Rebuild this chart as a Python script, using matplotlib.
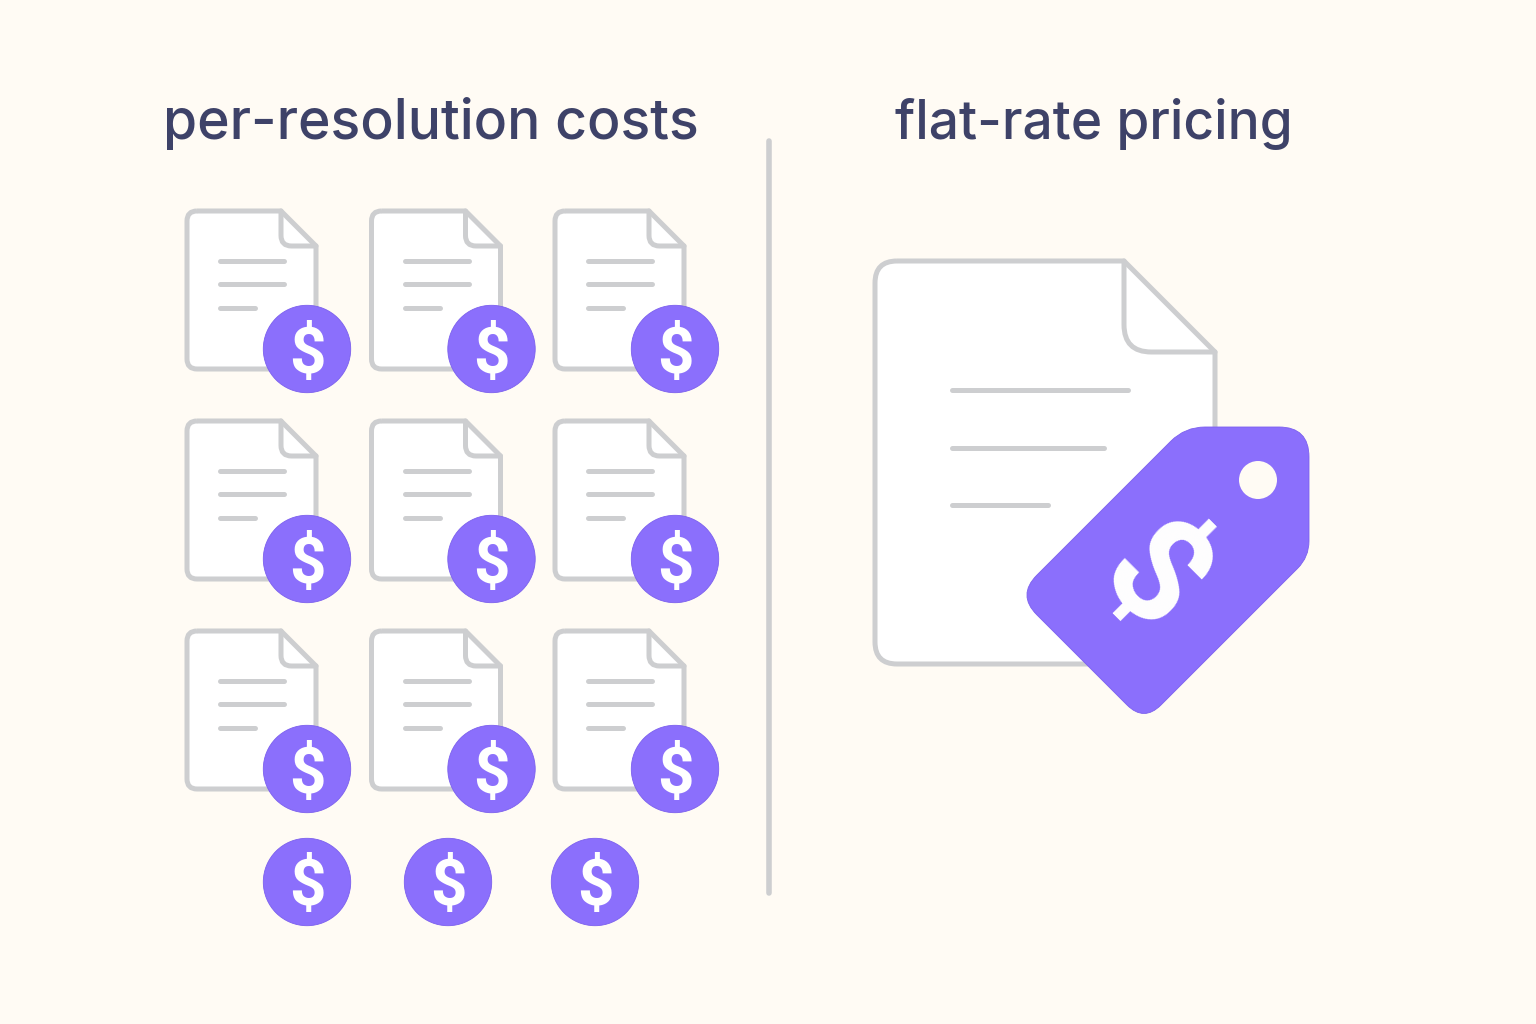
import numpy as np
import matplotlib
matplotlib.use("Agg")
import matplotlib.pyplot as plt
from matplotlib.patches import Circle, PathPatch
from matplotlib.path import Path

BG = "#FFFBF4"; GREY = "#CDCED0"; PURPLE = "#8B6FFC"; EDGE = "#7C60EE"; NAVY = "#3E4268"; WHITE = "#FFFFFF"

titles = ["per-resolution costs", "flat-rate pricing"]
title_x = [430.5, 1094]
title_size = [39.8, 38.4]
doc_x = [187, 371.5, 555]
doc_y = [211, 421, 631]
coin_offset = (120, 138)
extra_coin_x = [307, 448, 595]
extra_coin_y = 882
line_lengths = [64, 64, 35]

fig = plt.figure(figsize=(15.36, 10.24), dpi=100, facecolor=BG)
ax = fig.add_axes([0, 0, 1, 1])
ax.set_xlim(0, 1536); ax.set_ylim(1024, 0); ax.axis("off")
M, L, C = Path.MOVETO, Path.LINETO, Path.CURVE3


def rounded(points, radii):
    """Closed polygon with rounded corners."""
    pts = [np.array(p, float) for p in points]
    n = len(pts); v = []; c = []
    for i in range(n):
        p, a, b = pts[i], pts[i - 1], pts[(i + 1) % n]
        r = radii[i]
        s = p + (a - p) / np.linalg.norm(a - p) * r
        e = p + (b - p) / np.linalg.norm(b - p) * r
        v += [s, p, e]; c += [M if i == 0 else L, C, C]
    v.append(v[0]); c.append(L)
    return Path(v, c)


def doc(x, y, w, h, fold, r, lw, lines, line_ys, line_x, cut=None, z=2):
    if cut is None:
        br_v = [(x + w, y + h - r), (x + w, y + h), (x + w - r, y + h)]
        br_c = [L, C, C]
    else:
        br_v = [(x + w, cut[0]), (cut[1], y + h)]
        br_c = [L, L]
    v = [(x + r, y), (x + w - fold, y), (x + w, y + fold)] + br_v + \
        [(x + r, y + h), (x, y + h), (x, y + h - r), (x, y + r), (x, y), (x + r, y)]
    c = [M, L, L] + br_c + [L, C, C, L, C, C]
    ax.add_patch(PathPatch(Path(v, c), fc=WHITE, ec="none", zorder=z))
    if cut is None:
        ax.add_patch(PathPatch(Path(v, c), fc="none", ec=GREY, lw=lw, zorder=z, joinstyle="round"))
    else:
        ax.add_patch(PathPatch(Path(v[:4], c[:4]), fc="none", ec=GREY, lw=lw, zorder=z, joinstyle="round"))
        ax.add_patch(PathPatch(Path(v[4:], [M] + c[5:]), fc="none", ec=GREY, lw=lw, zorder=z, joinstyle="round"))
    fr = fold * 0.3
    v2 = [(x + w - fold, y), (x + w - fold, y + fold - fr), (x + w - fold, y + fold),
          (x + w - fold + fr, y + fold), (x + w, y + fold)]
    ax.add_patch(PathPatch(Path(v2, [M, L, C, C, L]), fc="none", ec=GREY, lw=lw, zorder=z,
                           capstyle="round", joinstyle="round"))
    for length, ly in zip(lines, line_ys):
        ax.plot([line_x, line_x + length], [ly, ly], color=GREY, lw=lw, solid_capstyle="round", zorder=z)


def coin(cx, cy):
    ax.add_patch(Circle((cx, cy), 43.7, fc=PURPLE, ec=EDGE, lw=0.6, zorder=4))
    ax.text(cx, cy + 6, "$", color=WHITE, fontsize=46, ha="center", va="center",
            family="Roboto", fontweight="bold", zorder=5)


for tx, t, s in zip(title_x, titles, title_size):
    ax.text(tx, 124, t, color=NAVY, fontsize=s, ha="center", va="center",
            family="Inter", fontweight="medium")

ax.plot([769, 769], [141, 893], color=GREY, lw=4, solid_capstyle="round", zorder=1)

for y in doc_y:
    for x in doc_x:
        doc(x, y, 129, 158, 35, 10, 3.6, line_lengths, [y + 50, y + 73, y + 97], x + 33)
        coin(x + coin_offset[0], y + coin_offset[1])
for x in extra_coin_x:
    coin(x, extra_coin_y)

# large document (its lower right corner is hidden by the tag and not drawn)
doc(875, 261, 340, 403, 91, 22, 3.6, [176, 152, 96], [390, 448, 505], 952, cut=(520, 1100))

# price tag
tag_pts = [(1185, 427), (1309, 427), (1309, 557), (1144, 722), (1017, 595)]
tag_r = [20, 30, 16, 24, 28]
ax.add_patch(PathPatch(rounded(tag_pts, tag_r), fc=PURPLE, ec=EDGE, lw=0.6, zorder=4))
ax.add_patch(Circle((1258, 480), 19, fc=BG, ec="none", zorder=5))
ax.text(1151.5, 581, "$", color=WHITE, fontsize=104, ha="center", va="center",
        family="Roboto", fontweight="bold", rotation=-45, rotation_mode="anchor", zorder=5)

fig.savefig("out.png", dpi=100, facecolor=BG)
